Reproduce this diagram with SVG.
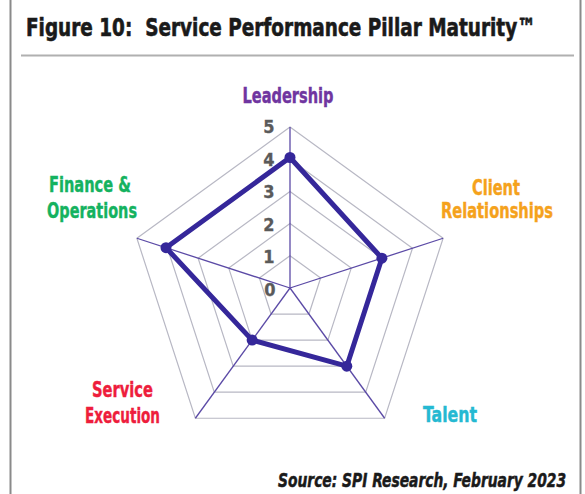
<svg xmlns="http://www.w3.org/2000/svg" width="585" height="494" viewBox="0 0 585 494">
<style>
.t{font-family:"Liberation Sans Narrow","DejaVu Sans Condensed","Liberation Sans",sans-serif;font-weight:bold}
.lbl{font-size:21px;text-anchor:middle;stroke-width:0.4}
.num{font-size:18px;fill:#5a5a5a;stroke:#5a5a5a;stroke-width:0.3;text-anchor:middle}
.ring{fill:none;stroke:#b8b8c4;stroke-width:1.2}
.spoke{stroke:#5b4aa6;stroke-width:1.3}
</style>
<rect width="585" height="494" fill="#ffffff"/>
<g id="frame">
<line x1="10.5" y1="0" x2="10.5" y2="494" stroke="#8a8a8a" stroke-width="2"/>
<line x1="580.5" y1="0" x2="580.5" y2="494" stroke="#8a8a8a" stroke-width="2"/>
<line x1="21" y1="55.5" x2="574" y2="55.5" stroke="#b0b0b0" stroke-width="2"/>
</g>
<g id="title">
<text class="t" transform="translate(26,36) scale(0.82,1)" x="0" y="0" font-size="25" fill="#1a1a1a" stroke="#1a1a1a" stroke-width="0.6" xml:space="preserve">Figure 10:  Service Performance Pillar Maturity™</text>
</g>
<g id="grid">
<polygon class="ring" points="290,127 443.13,238.25 384.64,418.25 195.36,418.25 136.87,238.25"/>
<polygon class="ring" points="290,159.2 412.5,248.2 365.71,392.2 214.29,392.2 167.5,248.2"/>
<polygon class="ring" points="290,191.4 381.88,258.15 346.78,366.15 233.22,366.15 198.12,258.15"/>
<polygon class="ring" points="290,223.6 351.25,268.1 327.86,340.1 252.14,340.1 228.75,268.1"/>
<polygon class="ring" points="290,255.8 320.63,278.05 308.93,314.05 271.07,314.05 259.37,278.05"/>
</g>
<g id="connectors">
<line class="spoke" x1="290" y1="288" x2="290" y2="127"/>
<line class="spoke" x1="290" y1="288" x2="443.13" y2="238.25"/>
<line class="spoke" x1="290" y1="288" x2="384.64" y2="418.25"/>
<line class="spoke" x1="290" y1="288" x2="195.36" y2="418.25"/>
<line class="spoke" x1="290" y1="288" x2="136.87" y2="238.25"/>
</g>
<g id="scale">
<text class="t num" x="269" y="133">5</text>
<text class="t num" x="269" y="166">4</text>
<text class="t num" x="269" y="198">3</text>
<text class="t num" x="269" y="231">2</text>
<text class="t num" x="269" y="263">1</text>
<text class="t num" x="270" y="296">0</text>
</g>
<g id="series">
<polygon points="290,157.5 381.88,258.15 346.78,366.15 252.14,340.1 166,247.7" fill="none" stroke="#35279a" stroke-width="5" stroke-linejoin="round"/>
<circle cx="290" cy="157.5" r="5.5" fill="#35279a"/>
<circle cx="381.88" cy="258.15" r="5.5" fill="#35279a"/>
<circle cx="346.78" cy="366.15" r="5.5" fill="#35279a"/>
<circle cx="252.14" cy="340.1" r="5.5" fill="#35279a"/>
<circle cx="166" cy="247.7" r="5.5" fill="#35279a"/>
</g>
<g id="leadership"><text class="t lbl" x="288" y="103" fill="#6f35a0" stroke="#6f35a0" textLength="91" lengthAdjust="spacingAndGlyphs">Leadership</text></g>
<g id="client-relationships">
<text class="t lbl" x="496" y="195" fill="#f5a21c" stroke="#f5a21c" textLength="48" lengthAdjust="spacingAndGlyphs">Client</text>
<text class="t lbl" x="497" y="218" fill="#f5a21c" stroke="#f5a21c" textLength="112" lengthAdjust="spacingAndGlyphs">Relationships</text>
</g>
<g id="talent"><text class="t lbl" x="450" y="422" fill="#25b9d2" stroke="#25b9d2" textLength="54" lengthAdjust="spacingAndGlyphs">Talent</text></g>
<g id="service-execution">
<text class="t lbl" x="122.5" y="397" fill="#ee1d3c" stroke="#ee1d3c" textLength="61" lengthAdjust="spacingAndGlyphs">Service</text>
<text class="t lbl" x="122.5" y="423" fill="#ee1d3c" stroke="#ee1d3c" textLength="75" lengthAdjust="spacingAndGlyphs">Execution</text>
</g>
<g id="finance-operations">
<text class="t lbl" x="90" y="192" fill="#14b25f" stroke="#14b25f" textLength="82" lengthAdjust="spacingAndGlyphs">Finance &amp;</text>
<text class="t lbl" x="92" y="218" fill="#14b25f" stroke="#14b25f" textLength="90" lengthAdjust="spacingAndGlyphs">Operations</text>
</g>
<g id="source">
<text class="t" transform="translate(278,487) scale(0.77,1)" x="0" y="0" font-size="20" font-style="italic" fill="#1a1a1a" stroke="#1a1a1a" stroke-width="0.5">Source: SPI Research, February 2023</text>
</g>
</svg>
